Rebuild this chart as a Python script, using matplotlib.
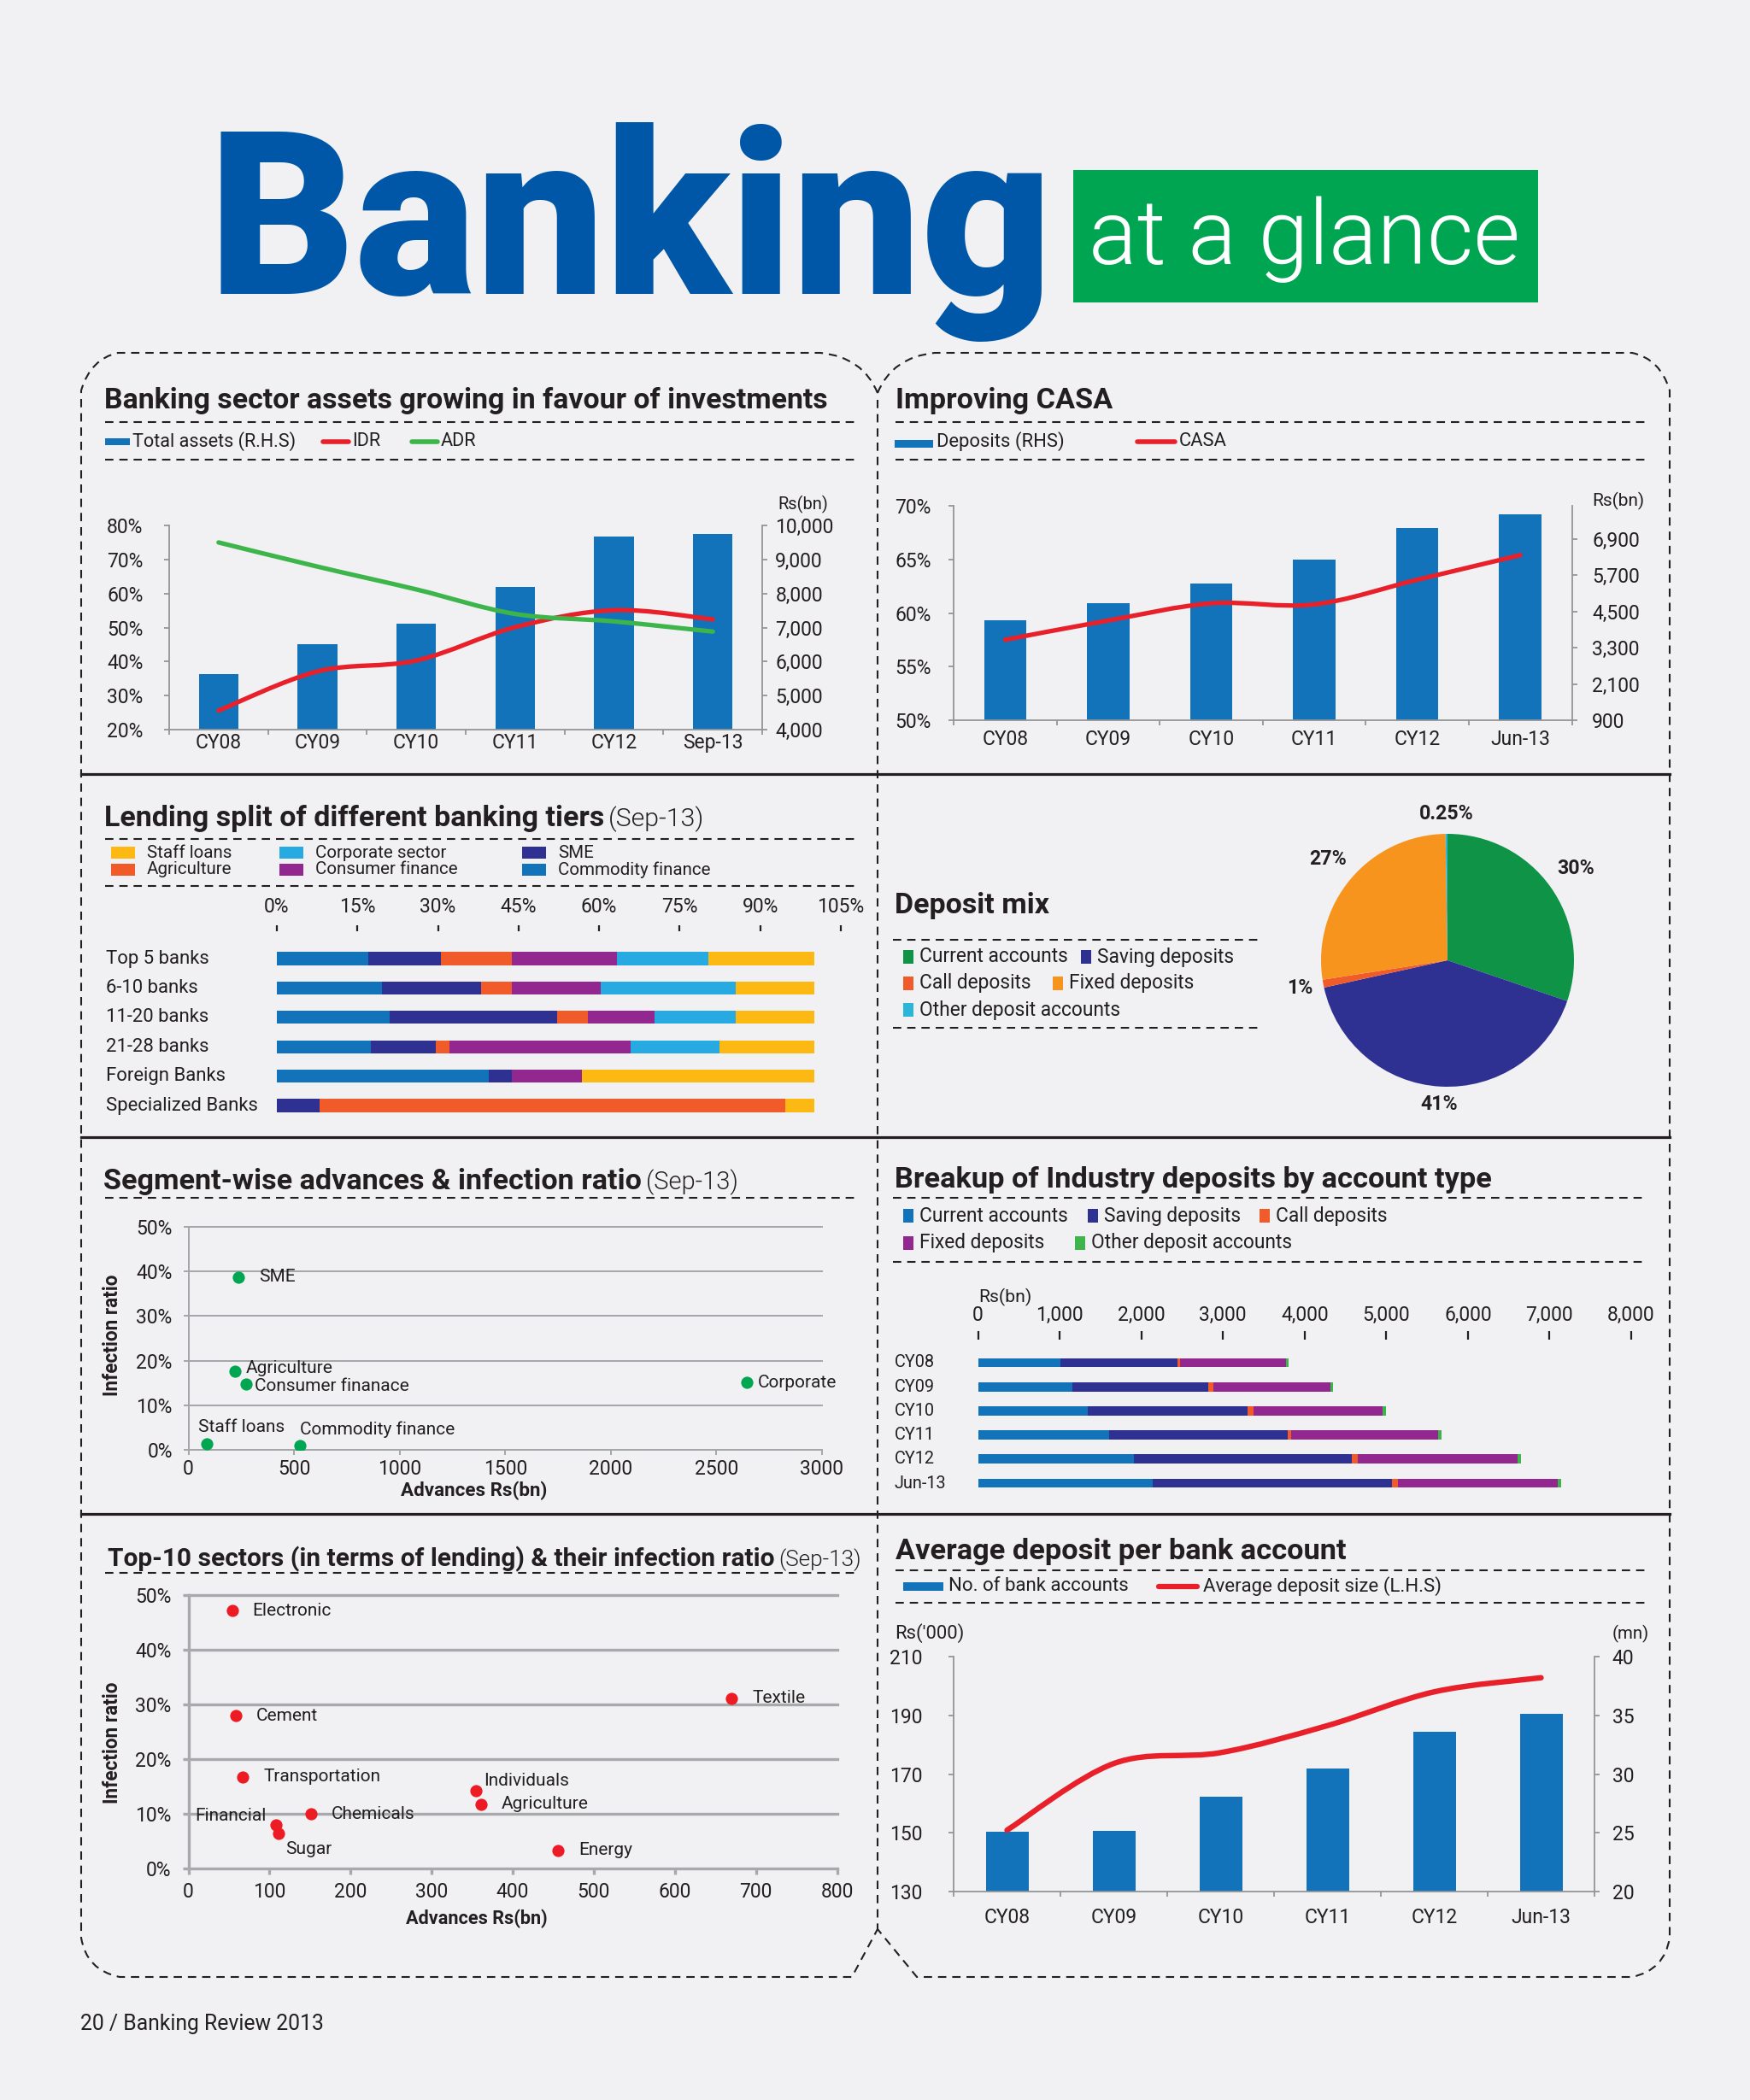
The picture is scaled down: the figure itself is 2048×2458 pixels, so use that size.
import numpy as np
import matplotlib
matplotlib.use('Agg')
import matplotlib.pyplot as plt
from matplotlib import font_manager as fm
from matplotlib.path import Path
from matplotlib.patches import PathPatch, Rectangle
from matplotlib.lines import Line2D

# ------------------------------------------------------------------ data
years_a = ['CY08', 'CY09', 'CY10', 'CY11', 'CY12', 'Sep-13']
total_assets = [5620, 6520, 7110, 8180, 9680, 9740]          # Rs bn (RHS)
idr = [25.6, 37.1, 40.3, 50.1, 55.1, 52.4]                  # %
adr = [75.0, 67.9, 61.2, 54.0, 51.8, 48.8]                  # %

years_b = ['CY08', 'CY09', 'CY10', 'CY11', 'CY12', 'Jun-13']
deposits = [4220, 4775, 5433, 6223, 7257, 7728]              # Rs bn (RHS)
casa = [57.5, 59.3, 60.9, 60.8, 63.1, 65.4]                  # %

tiers = ['Top 5 banks', '6-10 banks', '11-20 banks', '21-28 banks',
         'Foreign Banks', 'Specialized Banks']
commodity = [17.0, 19.6, 21.0, 17.5, 39.5, 0.0]
sme = [13.6, 18.5, 31.2, 12.1, 4.2, 8.0]
agriculture = [13.1, 5.6, 5.7, 2.6, 0.0, 86.6]
consumer = [19.6, 16.6, 12.4, 33.6, 13.1, 0.0]
corporate = [17.1, 25.1, 15.1, 16.6, 0.0, 0.0]
staff = [19.6, 14.6, 14.6, 17.6, 43.2, 5.4]

mix_labels = ['Current accounts', 'Saving deposits', 'Call deposits',
              'Fixed deposits', 'Other deposit accounts']
mix_values = [30, 41, 1, 27, 0.25]
mix_text = ['30%', '41%', '1%', '27%', '0.25%']

segments = ['Staff loans', 'Commodity finance', 'Agriculture',
            'Consumer finanace', 'SME', 'Corporate']
seg_adv = [85, 528, 221, 274, 235, 2645]
seg_inf = [1.4, 1.0, 17.7, 14.8, 38.7, 15.1]

dep_years = ['CY08', 'CY09', 'CY10', 'CY11', 'CY12', 'Jun-13']
current_acc = [1006, 1161, 1347, 1608, 1906, 2135]
saving_dep = [1440, 1657, 1955, 2185, 2675, 2930]
call_dep = [31, 68, 75, 37, 74, 75]
fixed_dep = [1291, 1434, 1583, 1806, 1956, 1961]
other_dep = [31, 31, 37, 38, 43, 37]

sectors = ['Electronic', 'Cement', 'Transportation', 'Chemicals', 'Financial',
           'Sugar', 'Individuals', 'Agriculture', 'Energy', 'Textile']
sec_adv = [54, 58, 67, 151, 108, 111, 355, 361, 456, 670]
sec_inf = [47.1, 27.9, 16.7, 9.9, 7.9, 6.4, 14.2, 11.7, 3.3, 31.1]

acc_years = ['CY08', 'CY09', 'CY10', 'CY11', 'CY12', 'Jun-13']
num_accounts = [25.1, 25.2, 28.1, 30.5, 33.6, 35.1]          # mn (RHS)
avg_deposit = [150.9, 173.6, 177.3, 186.5, 198.0, 202.8]     # Rs '000 (LHS)

# ------------------------------------------------------------------ style
W, H = 2048, 2458
BG = '#F1F1F3'
INK = '#231F20'
GREY = '#929497'
BLUE = '#1272BA'
NAVY = '#2E3192'
ORED = '#F15A29'
PURPLE = '#92278F'
CYAN = '#27AAE1'
YELLOW = '#FDB913'
RED = '#E8202A'
LGREEN = '#3DB54A'
PGREEN = '#0E9347'
PORANGE = '#F7941D'
PCYAN = '#2BB5D8'
DOTGREEN = '#00A651'
DOTRED = '#ED1C24'

entries = fm.fontManager.ttflist


def wnum(w):
    try:
        return int(w)
    except Exception:
        return fm.weight_dict.get(str(w), 400)


def weights(name):
    return sorted({wnum(e.weight) for e in entries
                   if e.name == name and e.style == 'normal'})


def pick(cands):
    for c in cands:
        if weights(c):
            return c
    return 'DejaVu Sans'


BODY = pick(['Roboto', 'Open Sans', 'Lato', 'Noto Sans', 'DejaVu Sans'])
HEAVY = ('DejaVu Sans', 700)
for c in ['Roboto', 'Lato', 'Inter', 'Open Sans', 'Noto Sans']:
    ws = weights(c)
    if ws and max(ws) >= 800:
        HEAVY = (c, max(ws))
        break
LIGHTW = 300 if any(w <= 300 for w in weights(BODY)) else 400

plt.rcParams['lines.scale_dashes'] = False
plt.rcParams['font.family'] = [BODY, 'DejaVu Sans']
plt.rcParams['axes.unicode_minus'] = False

fig = plt.figure(figsize=(W / 100, H / 100), dpi=100)
fig.patch.set_facecolor(BG)
R = fig.canvas.get_renderer()


def fam(name):
    return [name, 'DejaVu Sans']


def fit_size(s, width, weight='normal', family=None, base=20.0):
    t = fig.text(0, 0, s, fontsize=base, family=fam(family or BODY), fontweight=weight)
    w = t.get_window_extent(R).width
    t.remove()
    return base * width / w


def T(x, y, s, size=15, family=None, weight='normal', ha='left', va='center',
      color=INK, width=None, rotation=0):
    if width:
        size = fit_size(s, width, weight, family)
    return fig.text(x / W, 1 - y / H, s, fontsize=size, family=fam(family or BODY),
                    fontweight=weight, ha=ha, va=va, color=color, rotation=rotation)


def right_px(t):
    return t.get_window_extent(R).x1


def title(x, y, bold, bold_w, light=None, light_w=None):
    t = T(x, y, bold, weight='bold', va='baseline', width=bold_w)
    if light:
        x1 = right_px(t)
        T(x1 + 5, y, light, weight=LIGHTW, va='baseline', width=light_w)


def AX(x0, y0, x1, y1):
    a = fig.add_axes([x0 / W, 1 - y1 / H, (x1 - x0) / W, (y1 - y0) / H])
    a.patch.set_visible(False)
    return a


DASH = (0, (7, 5))


def hd(x0, x1, y, lw=1.5):
    fig.add_artist(Line2D([x0 / W, x1 / W], [1 - y / H] * 2, transform=fig.transFigure,
                          color=INK, lw=lw, ls=DASH))


def box(x0, y0, x1, y1, color):
    fig.add_artist(Rectangle((x0 / W, 1 - y1 / H), (x1 - x0) / W, (y1 - y0) / H,
                             transform=fig.transFigure, facecolor=color, edgecolor='none'))


def seg(x0, x1, y, color, lw):
    fig.add_artist(Line2D([x0 / W, x1 / W], [1 - y / H] * 2, transform=fig.transFigure,
                          color=color, lw=lw, solid_capstyle='round'))


def smooth(ax, xs, ys, color, lw):
    P = np.column_stack([np.asarray(xs, float), np.asarray(ys, float)])
    Pp = np.vstack([P[0], P, P[-1]])
    verts = [tuple(P[0])]
    codes = [Path.MOVETO]
    for i in range(len(P) - 1):
        p0, p1, p2, p3 = Pp[i], Pp[i + 1], Pp[i + 2], Pp[i + 3]
        c1 = p1 + (p2 - p0) / 6.0
        c2 = p2 - (p3 - p1) / 6.0
        verts += [tuple(c1), tuple(c2), tuple(p2)]
        codes += [Path.CURVE4] * 3
    ax.add_patch(PathPatch(Path(verts, codes), facecolor='none', edgecolor=color,
                           lw=lw, capstyle='round', joinstyle='round', zorder=5))


TICKFS = 16.5


def style_dual(a, b, cats, lticks, lfmt, rticks, rfmt, lpad, rpad, xpad):
    a.set_zorder(3)
    b.set_zorder(2)
    a.patch.set_visible(False)
    for ax_ in (a, b):
        for sp in ax_.spines.values():
            sp.set_color(GREY)
            sp.set_linewidth(1.3)
        ax_.spines['top'].set_visible(False)
    a.spines['right'].set_visible(False)
    b.spines['left'].set_visible(False)
    b.spines['bottom'].set_visible(False)
    a.set_yticks(lticks)
    a.set_yticklabels([lfmt(v) for v in lticks])
    b.set_yticks(rticks)
    b.set_yticklabels([rfmt(v) for v in rticks])
    a.set_xticks(range(len(cats)))
    a.set_xticklabels(cats)
    a.set_xticks(np.arange(-0.5, len(cats)), minor=True)
    a.tick_params(axis='x', which='major', length=0, pad=xpad, labelsize=TICKFS, labelcolor=INK)
    a.tick_params(axis='x', which='minor', length=4.5, width=1.3, color=GREY, direction='out')
    a.tick_params(axis='y', length=4, width=1.3, color=GREY, pad=lpad, labelsize=TICKFS, labelcolor=INK)
    b.tick_params(axis='y', length=4, width=1.3, color=GREY, pad=rpad, labelsize=TICKFS, labelcolor=INK)


# ------------------------------------------------------------------ header
T(243, 344, 'Banking', family=HEAVY[0], weight=HEAVY[1], color='#0057A8',
  va='baseline', width=990)
box(1256, 199, 1800, 354, '#00A551')
T(1274, 309, 'at a glance', weight=LIGHTW, color='white', va='baseline', width=505)

# ------------------------------------------------------------------ frame
def outline(pts, codes):
    verts = [(x / W, 1 - y / H) for x, y in pts]
    fig.add_artist(PathPatch(Path(verts, codes), transform=fig.transFigure,
                             facecolor='none', edgecolor=INK, lw=1.5, ls=DASH))


M, C3, L = Path.MOVETO, Path.CURVE3, Path.LINETO
outline([(1027, 460), (1010, 418), (960, 413), (138, 413), (106, 420), (95, 457),
         (95, 2268), (101, 2306), (140, 2314), (997, 2314), (1027, 2258)],
        [M, C3, C3, L, C3, C3, L, C3, C3, L, L])
outline([(1027, 460), (1044, 418), (1094, 413), (1910, 413), (1943, 420), (1954, 457),
         (1954, 2268), (1948, 2306), (1910, 2314), (1073, 2314), (1027, 2258)],
        [M, C3, C3, L, C3, C3, L, C3, C3, L, L])
fig.add_artist(Line2D([1027 / W] * 2, [1 - 468 / H, 1 - 2258 / H], transform=fig.transFigure,
                      color=INK, lw=1.5, ls=DASH))
for yy in (906, 1331, 1772):
    fig.add_artist(Line2D([95 / W, 1954 / W], [1 - yy / H] * 2, transform=fig.transFigure,
                          color=INK, lw=2.3))

T(94, 2369, '20 / Banking Review 2013', width=285)

# ------------------------------------------------------------------ panel 1
title(122, 478, 'Banking sector assets growing in favour of investments', 845)
hd(123, 1000, 494)
hd(123, 1000, 538)
fs1 = fit_size('Total assets (R.H.S)', 191)
box(123, 513, 152, 521, BLUE)
T(155, 517, 'Total assets (R.H.S)', size=fs1)
seg(378, 408, 517, RED, 4)
T(412, 517, 'IDR', size=fs1)
seg(482, 512, 517, LGREEN, 4)
T(516, 517, 'ADR', size=fs1)

a1 = AX(198, 615, 892, 854)
b1 = a1.twinx()
x = np.arange(len(years_a))
b1.bar(x, total_assets, width=0.40, color=BLUE)
b1.set_ylim(4000, 10000)
a1.set_ylim(20, 80)
a1.set_xlim(-0.5, 5.5)
smooth(a1, x, idr, RED, 3.8)
smooth(a1, x, adr, LGREEN, 3.8)
style_dual(a1, b1, years_a, range(20, 81, 10), lambda v: f'{v}%',
           range(4000, 10001, 1000), lambda v: f'{v:,}', 18, 7, 3)
T(910, 590, 'Rs(bn)', width=59)

# ------------------------------------------------------------------ panel 2
title(1048, 478, 'Improving CASA', 254)
hd(1048, 1929, 494)
hd(1048, 1929, 538)
fs2 = fit_size('Deposits (RHS)', 149)
box(1047, 515, 1092, 524, BLUE)
T(1096, 517, 'Deposits (RHS)', size=fs2)
seg(1331, 1375, 517, RED, 4)
T(1380, 517, 'CASA', size=fs2)

a2 = AX(1116, 592, 1839.5, 843)
b2 = a2.twinx()
x = np.arange(len(years_b))
b2.bar(x, deposits, width=0.41, color=BLUE)
b2.set_ylim(900, 8000)
a2.set_ylim(50, 70)
a2.set_xlim(-0.5, 5.5)
smooth(a2, x, casa, RED, 3.8)
style_dual(a2, b2, years_b, range(50, 71, 5), lambda v: f'{v}%',
           range(900, 6901, 1200), lambda v: f'{v:,}', 15, 13, 8)
T(1863, 586, 'Rs(bn)', width=61)

# ------------------------------------------------------------------ panel 3
title(122, 967, 'Lending split of different banking tiers', 584, '(Sep-13)', 112)
hd(123, 1000, 982)
hd(123, 1000, 1037)
fs3 = 14.8
leg3 = [(130, 998, 'Staff loans', YELLOW), (130, 1018, 'Agriculture', ORED),
        (327, 998, 'Corporate sector', CYAN), (327, 1018, 'Consumer finance', PURPLE),
        (611, 998, 'SME', NAVY), (611, 1018, 'Commodity finance', BLUE)]
for sx, sy, lab, col in leg3:
    box(sx, sy - 7, sx + 28, sy + 7, col)
    T(sx + 42, sy, lab, size=fs3)

a3 = AX(324, 1083, 984, 1311)
y3 = np.arange(len(tiers))
left = np.zeros(len(tiers))
for vals, col in zip([commodity, sme, agriculture, consumer, corporate, staff],
                     [BLUE, NAVY, ORED, PURPLE, CYAN, YELLOW]):
    a3.barh(y3, vals, left=left, height=0.44, color=col, linewidth=0)
    left += np.asarray(vals)
a3.set_xlim(0, 105)
a3.set_ylim((1311 - 1122) / 34.4, (1083 - 1122) / 34.4)
for sp in a3.spines.values():
    sp.set_visible(False)
a3.xaxis.tick_top()
a3.set_xticks(range(0, 106, 15))
a3.set_xticklabels([f'{v}%' for v in range(0, 106, 15)])
a3.tick_params(axis='x', direction='in', length=5, width=1.6, color=INK, pad=7,
               labelsize=TICKFS, labelcolor=INK)
a3.set_yticks([])
fsr3 = fit_size('Specialized Banks', 178)
for i, lab in enumerate(tiers):
    a3.text((124 - 324) / 660, i, lab, transform=a3.get_yaxis_transform(),
            ha='left', va='center', fontsize=fsr3, color=INK)

# ------------------------------------------------------------------ panel 4
title(1047, 1069, 'Deposit mix', 181)
hd(1045, 1472, 1100)
hd(1045, 1472, 1203)
fs4 = fit_size('Current accounts', 173.5)
leg4 = [(1057, 1120, 'Current accounts', PGREEN), (1265, 1120, 'Saving deposits', NAVY),
        (1057, 1151, 'Call deposits', ORED), (1232, 1151, 'Fixed deposits', PORANGE),
        (1057, 1182, 'Other deposit accounts', PCYAN)]
for sx, sy, lab, col in leg4:
    box(sx, sy - 8, sx + 12, sy + 8, col)
    T(sx + 19, sy, lab, size=fs4)

a4 = AX(1694 - 148, 1124 - 148, 1694 + 148, 1124 + 148)
wedges, _ = a4.pie(mix_values, colors=[PGREEN, NAVY, ORED, PORANGE, PCYAN],
                   startangle=90, counterclock=False, radius=1,
                   wedgeprops=dict(linewidth=0))
a4.set_xlim(-1, 1)
a4.set_ylim(-1, 1)
a4.set_aspect('equal')
label_r = [1.25, 1.14, 1.19, 1.24, 1.16]
fsp = fit_size('0.25%', 63.5, weight='bold')
for w, txt, r in zip(wedges, mix_text, label_r):
    ang = np.deg2rad((w.theta1 + w.theta2) / 2.0)
    a4.text(r * np.cos(ang), r * np.sin(ang), txt, ha='center', va='center',
            fontweight='bold', fontsize=fsp, color=INK, clip_on=False)

# ------------------------------------------------------------------ panel 5
title(121, 1392, 'Segment-wise advances & infection ratio', 628, '(Sep-13)', 108)
hd(123, 1006, 1402)
a5 = AX(220.5, 1436, 962, 1697)
a5.set_xlim(0, 3000)
a5.set_ylim(0, 50)
for v in range(10, 51, 10):
    a5.axhline(v, color='#A3A5A8', lw=1.4, clip_on=False, zorder=1)
a5.scatter(seg_adv, seg_inf, s=105, color=DOTGREEN, zorder=4, linewidths=0)
for sp in ('top', 'right'):
    a5.spines[sp].set_visible(False)
for sp in ('left', 'bottom'):
    a5.spines[sp].set_color('#A3A5A8')
    a5.spines[sp].set_linewidth(1.4)
a5.set_xticks(range(0, 3001, 500))
a5.set_yticks(range(0, 51, 10))
a5.set_yticklabels([f'{v}%' for v in range(0, 51, 10)])
a5.tick_params(axis='both', length=4, width=1.4, color='#A3A5A8', labelsize=TICKFS, labelcolor=INK)
a5.tick_params(axis='y', pad=9.5)
a5.tick_params(axis='x', pad=4)
off5 = {'Staff loans': (-10, 19, 'left'), 'Commodity finance': (0, 19, 'left'),
        'Agriculture': (13, 3, 'left'), 'Consumer finanace': (10, -3, 'left'),
        'SME': (25, 0, 'left'), 'Corporate': (12, 0, 'left')}
for name, xv, yv in zip(segments, seg_adv, seg_inf):
    dx, dy, ha = off5[name]
    a5.annotate(name, (xv, yv), xytext=(dx, dy), textcoords='offset pixels',
                ha=ha, va='center', fontsize=15, color=INK)
fsy = fit_size('Infection ratio', 142, weight='bold')
T(131, 1563, 'Infection ratio', size=fsy, weight='bold', ha='center', rotation=90)
T(555, 1745, 'Advances Rs(bn)', weight='bold', ha='center', width=171)

# ------------------------------------------------------------------ panel 6
title(1047, 1390, 'Breakup of Industry deposits by account type', 698)
hd(1045, 1928, 1402)
hd(1045, 1928, 1477)
leg6 = [(1057, 1423, 'Current accounts', BLUE), (1273, 1423, 'Saving deposits', NAVY),
        (1474, 1423, 'Call deposits', ORED), (1057, 1455, 'Fixed deposits', PURPLE),
        (1258, 1455, 'Other deposit accounts', LGREEN)]
for sx, sy, lab, col in leg6:
    box(sx, sy - 8, sx + 12, sy + 8, col)
    T(sx + 19, sy, lab, size=fs4)
T(1145, 1518, 'Rs(bn)', width=62)

a6 = AX(1144.5, 1558, 1909, 1750)
y6 = np.arange(len(dep_years))
left = np.zeros(len(dep_years))
for vals, col in zip([current_acc, saving_dep, call_dep, fixed_dep, other_dep],
                     [BLUE, NAVY, ORED, PURPLE, LGREEN]):
    a6.barh(y6, vals, left=left, height=0.39, color=col, linewidth=0)
    left += np.asarray(vals)
a6.set_xlim(0, 8000)
a6.set_ylim((1750 - 1595) / 28.2, (1558 - 1595) / 28.2)
for sp in a6.spines.values():
    sp.set_visible(False)
a6.xaxis.tick_top()
a6.set_xticks(range(0, 8001, 1000))
a6.set_xticklabels([f'{v:,}' for v in range(0, 8001, 1000)])
a6.tick_params(axis='x', direction='in', length=7, width=1.6, color=INK, pad=5,
               labelsize=TICKFS, labelcolor=INK)
a6.set_yticks([])
fsr6 = fit_size('Jun-13', 60.5)
for i, lab in enumerate(dep_years):
    a6.text((1046.6 - 1144.5) / (1909 - 1144.5), i, lab, transform=a6.get_yaxis_transform(),
            ha='left', va='center', fontsize=fsr6, color=INK)

# ------------------------------------------------------------------ panel 7
title(126, 1833, 'Top-10 sectors (in terms of lending) & their infection ratio', 777,
      '(Sep-13)', 97)
hd(123, 1006, 1841)
a7 = AX(220.5, 1866.7, 979.6, 2186.7)
a7.set_xlim(0, 800)
a7.set_ylim(0, 50)
G7 = '#A7A9AC'
for v in range(10, 51, 10):
    a7.axhline(v, color=G7, lw=2.4, clip_on=False, zorder=1)
a7.scatter(sec_adv, sec_inf, s=105, color=DOTRED, zorder=4, linewidths=0)
for sp in ('top', 'right'):
    a7.spines[sp].set_visible(False)
for sp in ('left', 'bottom'):
    a7.spines[sp].set_color(G7)
    a7.spines[sp].set_linewidth(2.4)
a7.set_xticks(range(0, 801, 100))
a7.set_yticks(range(0, 51, 10))
a7.set_yticklabels([f'{v}%' for v in range(0, 51, 10)])
a7.tick_params(axis='both', length=5, width=2.4, color=G7, labelsize=TICKFS, labelcolor=INK)
a7.tick_params(axis='y', pad=9.5)
a7.tick_params(axis='x', pad=7)
off7 = {'Electronic': (24, 0, 'left'), 'Cement': (24, 0, 'left'),
        'Transportation': (24, 0, 'left'), 'Chemicals': (24, 0, 'left'),
        'Financial': (-11, 11, 'right'), 'Sugar': (8, -19, 'left'),
        'Individuals': (9, 11, 'left'), 'Agriculture': (24, 0, 'left'),
        'Energy': (24, 0, 'left'), 'Textile': (24, 0, 'left')}
for name, xv, yv in zip(sectors, sec_adv, sec_inf):
    dx, dy, ha = off7[name]
    a7.annotate(name, (xv, yv), xytext=(dx, dy), textcoords='offset pixels',
                ha=ha, va='center', fontsize=15, color=INK)
T(131, 2040, 'Infection ratio', size=fsy, weight='bold', ha='center', rotation=90)
T(558, 2246, 'Advances Rs(bn)', weight='bold', ha='center', width=165)

# ------------------------------------------------------------------ panel 8
title(1048, 1825, 'Average deposit per bank account', 526)
hd(1048, 1929, 1838)
hd(1048, 1929, 1876)
fs8 = fit_size('Average deposit size (L.H.S)', 279)
box(1057, 1852, 1104, 1862, BLUE)
T(1110, 1857, 'No. of bank accounts', size=fs8)
seg(1356, 1401, 1857, RED, 4.5)
T(1408, 1857, 'Average deposit size (L.H.S)', size=fs8)
T(1047, 1912, "Rs('000)", width=81)
T(1930, 1912, '(mn)', ha='right', width=43)

a8 = AX(1116, 1939, 1866, 2214)
b8 = a8.twinx()
x = np.arange(len(acc_years))
b8.bar(x, num_accounts, width=0.40, color=BLUE)
b8.set_ylim(20, 40)
a8.set_ylim(130, 210)
a8.set_xlim(-0.5, 5.5)
smooth(a8, x, avg_deposit, RED, 4.6)
style_dual(a8, b8, acc_years, range(130, 211, 20), lambda v: f'{v}',
           range(20, 41, 5), lambda v: f'{v}', 22, 11, 14)

fig.savefig('out.png', dpi=100, facecolor=BG)
